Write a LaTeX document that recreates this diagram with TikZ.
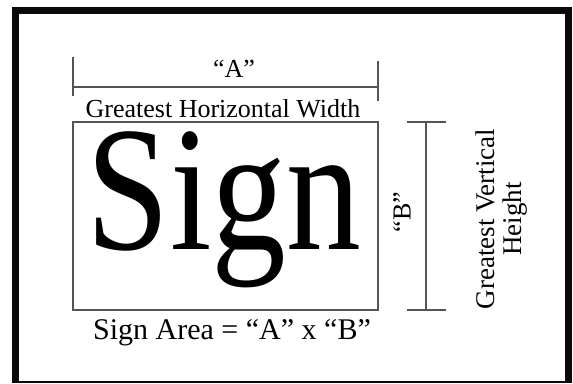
\documentclass[tikz,border=0pt]{standalone}
\usepackage{fontspec}
\setmainfont{Liberation Serif}
\usepackage{xcolor}
\definecolor{Frame}{HTML}{0A0A0A}
\definecolor{Rule}{HTML}{555555}
\usetikzlibrary{positioning,calc}

\begin{document}
\begin{tikzpicture}[
  x=1pt,y=-1pt,
  every node/.style={inner sep=0pt,outer sep=0pt},
  label/.style={font=\fontsize{26}{27}\selectfont,align=center},
  signbox/.style={draw=Rule,line width=1.6pt,minimum width=305pt,minimum height=188pt},
  dimline/.style={draw=Rule,line width=1.4pt}
]
\useasboundingbox (0,0) rectangle (573,383);
% outer frame
\draw[Frame,line width=6.5pt] (15.5,383) -- (15.5,10.5) -- (568.5,10.5) -- (568.5,383);
\draw[Frame,line width=2pt] (15.5,382) -- (568.5,382);

\node[signbox] (box) at (225.5,216) {};
\node[anchor=base,text height=122pt,text depth=46pt,font=\fontsize{178}{178}\selectfont]
  (sign) at (224,249) {\scalebox{0.84}[1]{Sign}};

% horizontal dimension
\coordinate (hl) at ($(box.north west)+(0,-35)$);
\coordinate (hr) at ($(box.north east)+(0,-35)$);
\draw[dimline] (hl) -- (hr);
\draw[dimline] ($(hl)+(0,-30)$) -- ($(hl)+(0,9)$);
\draw[dimline] ($(hr)+(0,-26)$) -- ($(hr)+(0,14)$);
\node[label,anchor=base] (A) at (234,77) {“A”};
\node[label,anchor=base,text height=18pt,text depth=0pt] (width) at (223,117)
  {Greatest Horizontal Width};

% vertical dimension
\coordinate (vt) at ($(box.north east)+(48,0)$);
\coordinate (vb) at ($(box.south east)+(48,0)$);
\draw[dimline] (vt) -- (vb);
\draw[dimline] ($(vt)+(-19,0)$) -- ($(vt)+(20,0)$);
\draw[dimline] ($(vb)+(-19,0)$) -- ($(vb)+(20,0)$);
\node[label,rotate=90] (B) at (402,212) {“B”};
\node[label,rotate=90,font=\fontsize{27}{27}\selectfont] (height) at (502,219)
  {Greatest Vertical\\Height};

\node[anchor=base,font=\fontsize{30}{32}\selectfont] (area) at (232,339)
  {Sign Area = “A” x “B”};
\end{tikzpicture}
\end{document}
